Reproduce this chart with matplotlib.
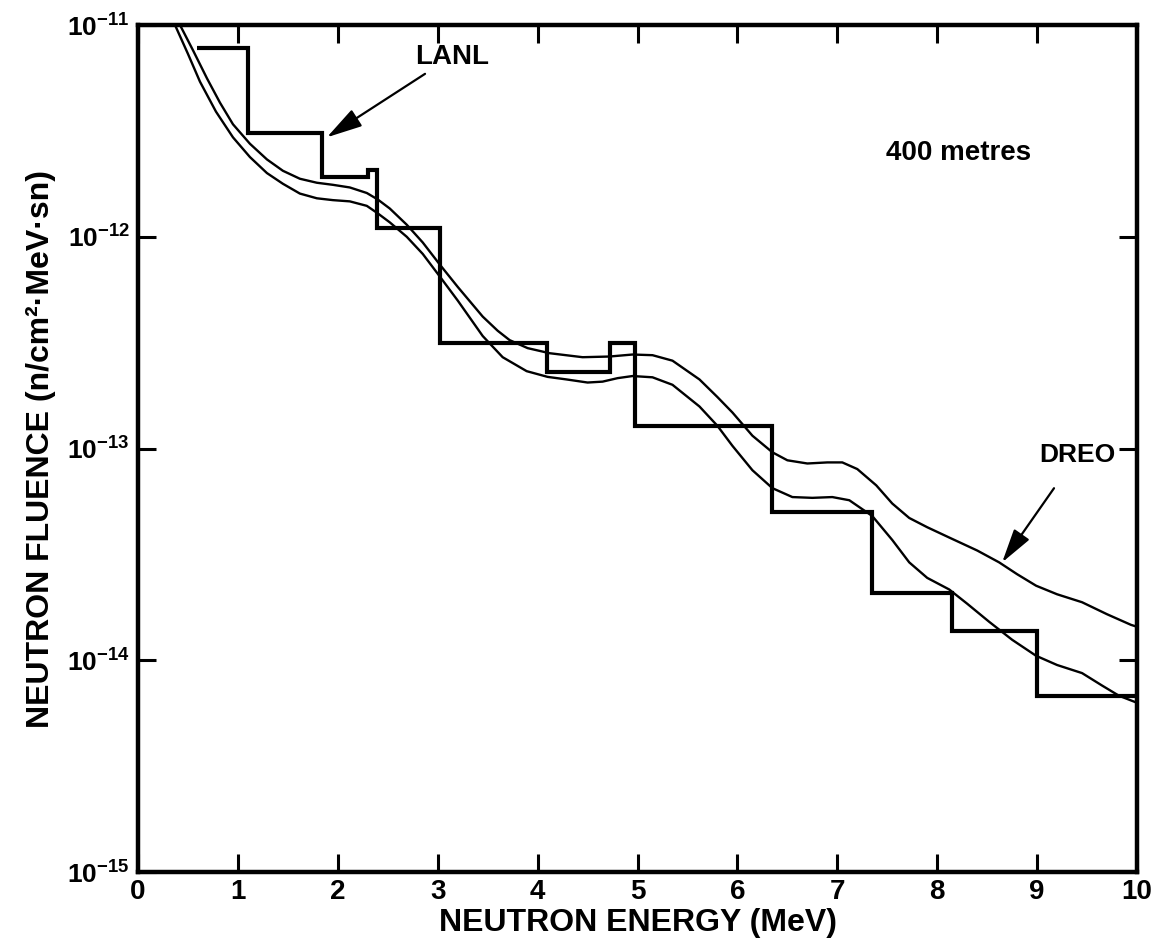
import matplotlib
matplotlib.use("Agg")
import matplotlib.pyplot as plt
import numpy as np

plt.rcParams['font.family'] = ['Liberation Sans', 'DejaVu Sans']
plt.rcParams['font.weight'] = 'bold'
plt.rcParams['mathtext.fontset'] = 'custom'
plt.rcParams['mathtext.rm'] = 'Liberation Sans:bold'
plt.rcParams['mathtext.bf'] = 'Liberation Sans:bold'
plt.rcParams['mathtext.default'] = 'bf'

# LANL histogram (bin edges in MeV, fluence values)
lanl_edges = [0.59, 1.10, 1.84, 2.30, 2.39, 3.02, 4.09, 4.72, 4.97, 6.35, 7.35, 8.15, 9.00, 10.0]
lanl_values = [7.8e-12, 3.1e-12, 1.92e-12, 2.07e-12, 1.1e-12, 3.16e-13, 2.3e-13,
               3.16e-13, 1.28e-13, 5.0e-14, 2.09e-14, 1.38e-14, 6.8e-15]

# DREO upper curve
dreo_up_E = [0.42, 0.55, 0.69, 0.82, 0.95, 1.12, 1.29, 1.45, 1.62, 1.79, 1.95, 2.12, 2.29,
             2.40, 2.52, 2.69, 2.85, 3.02, 3.20, 3.45, 3.60, 3.72, 3.90, 4.12, 4.45, 4.72,
             4.95, 5.15, 5.35, 5.62, 5.80, 5.95, 6.15, 6.35, 6.50, 6.70, 6.90, 7.05, 7.20,
             7.39, 7.55, 7.72, 7.90, 8.12, 8.40, 8.62, 8.80, 8.99, 9.20, 9.45, 9.70, 9.94,
             10.0]
dreo_up_F = [1.0e-11, 7.6e-12, 5.6e-12, 4.3e-12, 3.4e-12, 2.75e-12, 2.32e-12, 2.05e-12,
             1.88e-12, 1.80e-12, 1.76e-12, 1.71e-12, 1.61e-12, 1.50e-12, 1.36e-12, 1.14e-12,
             9.4e-13, 7.4e-13, 5.8e-13, 4.2e-13, 3.6e-13, 3.25e-13, 2.98e-13, 2.82e-13,
             2.70e-13, 2.72e-13, 2.78e-13, 2.76e-13, 2.6e-13, 2.12e-13, 1.75e-13, 1.48e-13,
             1.15e-13, 9.6e-14, 8.8e-14, 8.5e-14, 8.6e-14, 8.6e-14, 8.0e-14, 6.7e-14,
             5.5e-14, 4.7e-14, 4.25e-14, 3.8e-14, 3.3e-14, 2.9e-14, 2.55e-14, 2.25e-14,
             2.05e-14, 1.88e-14, 1.65e-14, 1.47e-14, 1.44e-14]

# DREO lower curve
dreo_lo_E = [0.37, 0.50, 0.62, 0.78, 0.95, 1.12, 1.29, 1.45, 1.62, 1.79, 1.95, 2.12, 2.29,
             2.40, 2.52, 2.69, 2.85, 3.02, 3.20, 3.45, 3.65, 3.89, 4.10, 4.29, 4.50, 4.65,
             4.80, 4.95, 5.15, 5.35, 5.62, 5.80, 5.95, 6.15, 6.35, 6.55, 6.75, 6.95, 7.12,
             7.35, 7.55, 7.72, 7.90, 8.12, 8.30, 8.52, 8.75, 8.99, 9.20, 9.45, 9.65, 9.82,
             10.0]
dreo_lo_F = [1.0e-11, 7.3e-12, 5.4e-12, 3.9e-12, 2.95e-12, 2.38e-12, 2.0e-12, 1.78e-12,
             1.60e-12, 1.52e-12, 1.49e-12, 1.47e-12, 1.40e-12, 1.29e-12, 1.17e-12, 1.0e-12,
             8.3e-13, 6.5e-13, 5.0e-13, 3.4e-13, 2.7e-13, 2.32e-13, 2.18e-13, 2.12e-13,
             2.05e-13, 2.07e-13, 2.15e-13, 2.2e-13, 2.17e-13, 2.0e-13, 1.58e-13, 1.28e-13,
             1.03e-13, 7.9e-14, 6.5e-14, 5.9e-14, 5.85e-14, 5.9e-14, 5.7e-14, 4.8e-14,
             3.7e-14, 2.9e-14, 2.45e-14, 2.16e-14, 1.85e-14, 1.52e-14, 1.25e-14, 1.05e-14,
             9.5e-15, 8.7e-15, 7.6e-15, 6.8e-15, 6.3e-15]

x_ticks = list(range(0, 11))
y_ticks = [1e-15, 1e-14, 1e-13, 1e-12, 1e-11]
y_ticklabels = [r'$10^{-15}$', r'$10^{-14}$', r'$10^{-13}$', r'$10^{-12}$', r'$10^{-11}$']

fig = plt.figure(figsize=(11.67, 9.49), dpi=100)
ax = fig.add_axes([0.1183, 0.0811, 0.856, 0.8925])

ax.plot(dreo_up_E, dreo_up_F, color='black', lw=1.7, solid_joinstyle='round')
ax.plot(dreo_lo_E, dreo_lo_F, color='black', lw=1.7, solid_joinstyle='round')
ax.stairs(lanl_values, lanl_edges, baseline=None, color='black', lw=3.0)

ax.set_yscale('log')
ax.set_xlim(0, 10)
ax.set_ylim(1e-15, 1e-11)
ax.set_xticks(x_ticks)
ax.set_xticklabels([str(t) for t in x_ticks], fontsize=20, fontweight='bold')
ax.set_yticks(y_ticks)
ax.set_yticklabels(y_ticklabels, fontsize=19)
ax.yaxis.set_minor_locator(matplotlib.ticker.NullLocator())
ax.tick_params(axis='both', which='major', direction='in', length=13, width=2.2,
               top=True, right=True)
ax.tick_params(axis='x', pad=5)
ax.tick_params(axis='y', pad=6)
for s in ax.spines.values():
    s.set_linewidth(3.2)

ax.set_xlabel('NEUTRON ENERGY (MeV)', fontsize=23, fontweight='bold', labelpad=2)
ax.set_ylabel('NEUTRON FLUENCE (n/cm²·MeV·sn)', fontsize=23, fontweight='bold', labelpad=8)

ax.annotate('LANL', xy=(1.89, 2.95e-12), xytext=(2.77, 7.1e-12), fontsize=20,
            fontweight='bold', ha='left', va='center',
            arrowprops=dict(arrowstyle='-|>,head_length=1.1,head_width=0.3',
                            color='black', lw=1.6, shrinkA=2, shrinkB=0))
ax.annotate('DREO', xy=(8.65, 2.9e-14), xytext=(9.4, 9.3e-14), fontsize=19,
            fontweight='bold', ha='center', va='center',
            arrowprops=dict(arrowstyle='-|>,head_length=1.1,head_width=0.3',
                            color='black', lw=1.6, shrinkA=16, shrinkB=0))
ax.text(7.49, 2.5e-12, '400 metres', fontsize=20, fontweight='bold', ha='left', va='center')

fig.savefig('out.png', dpi=100)
